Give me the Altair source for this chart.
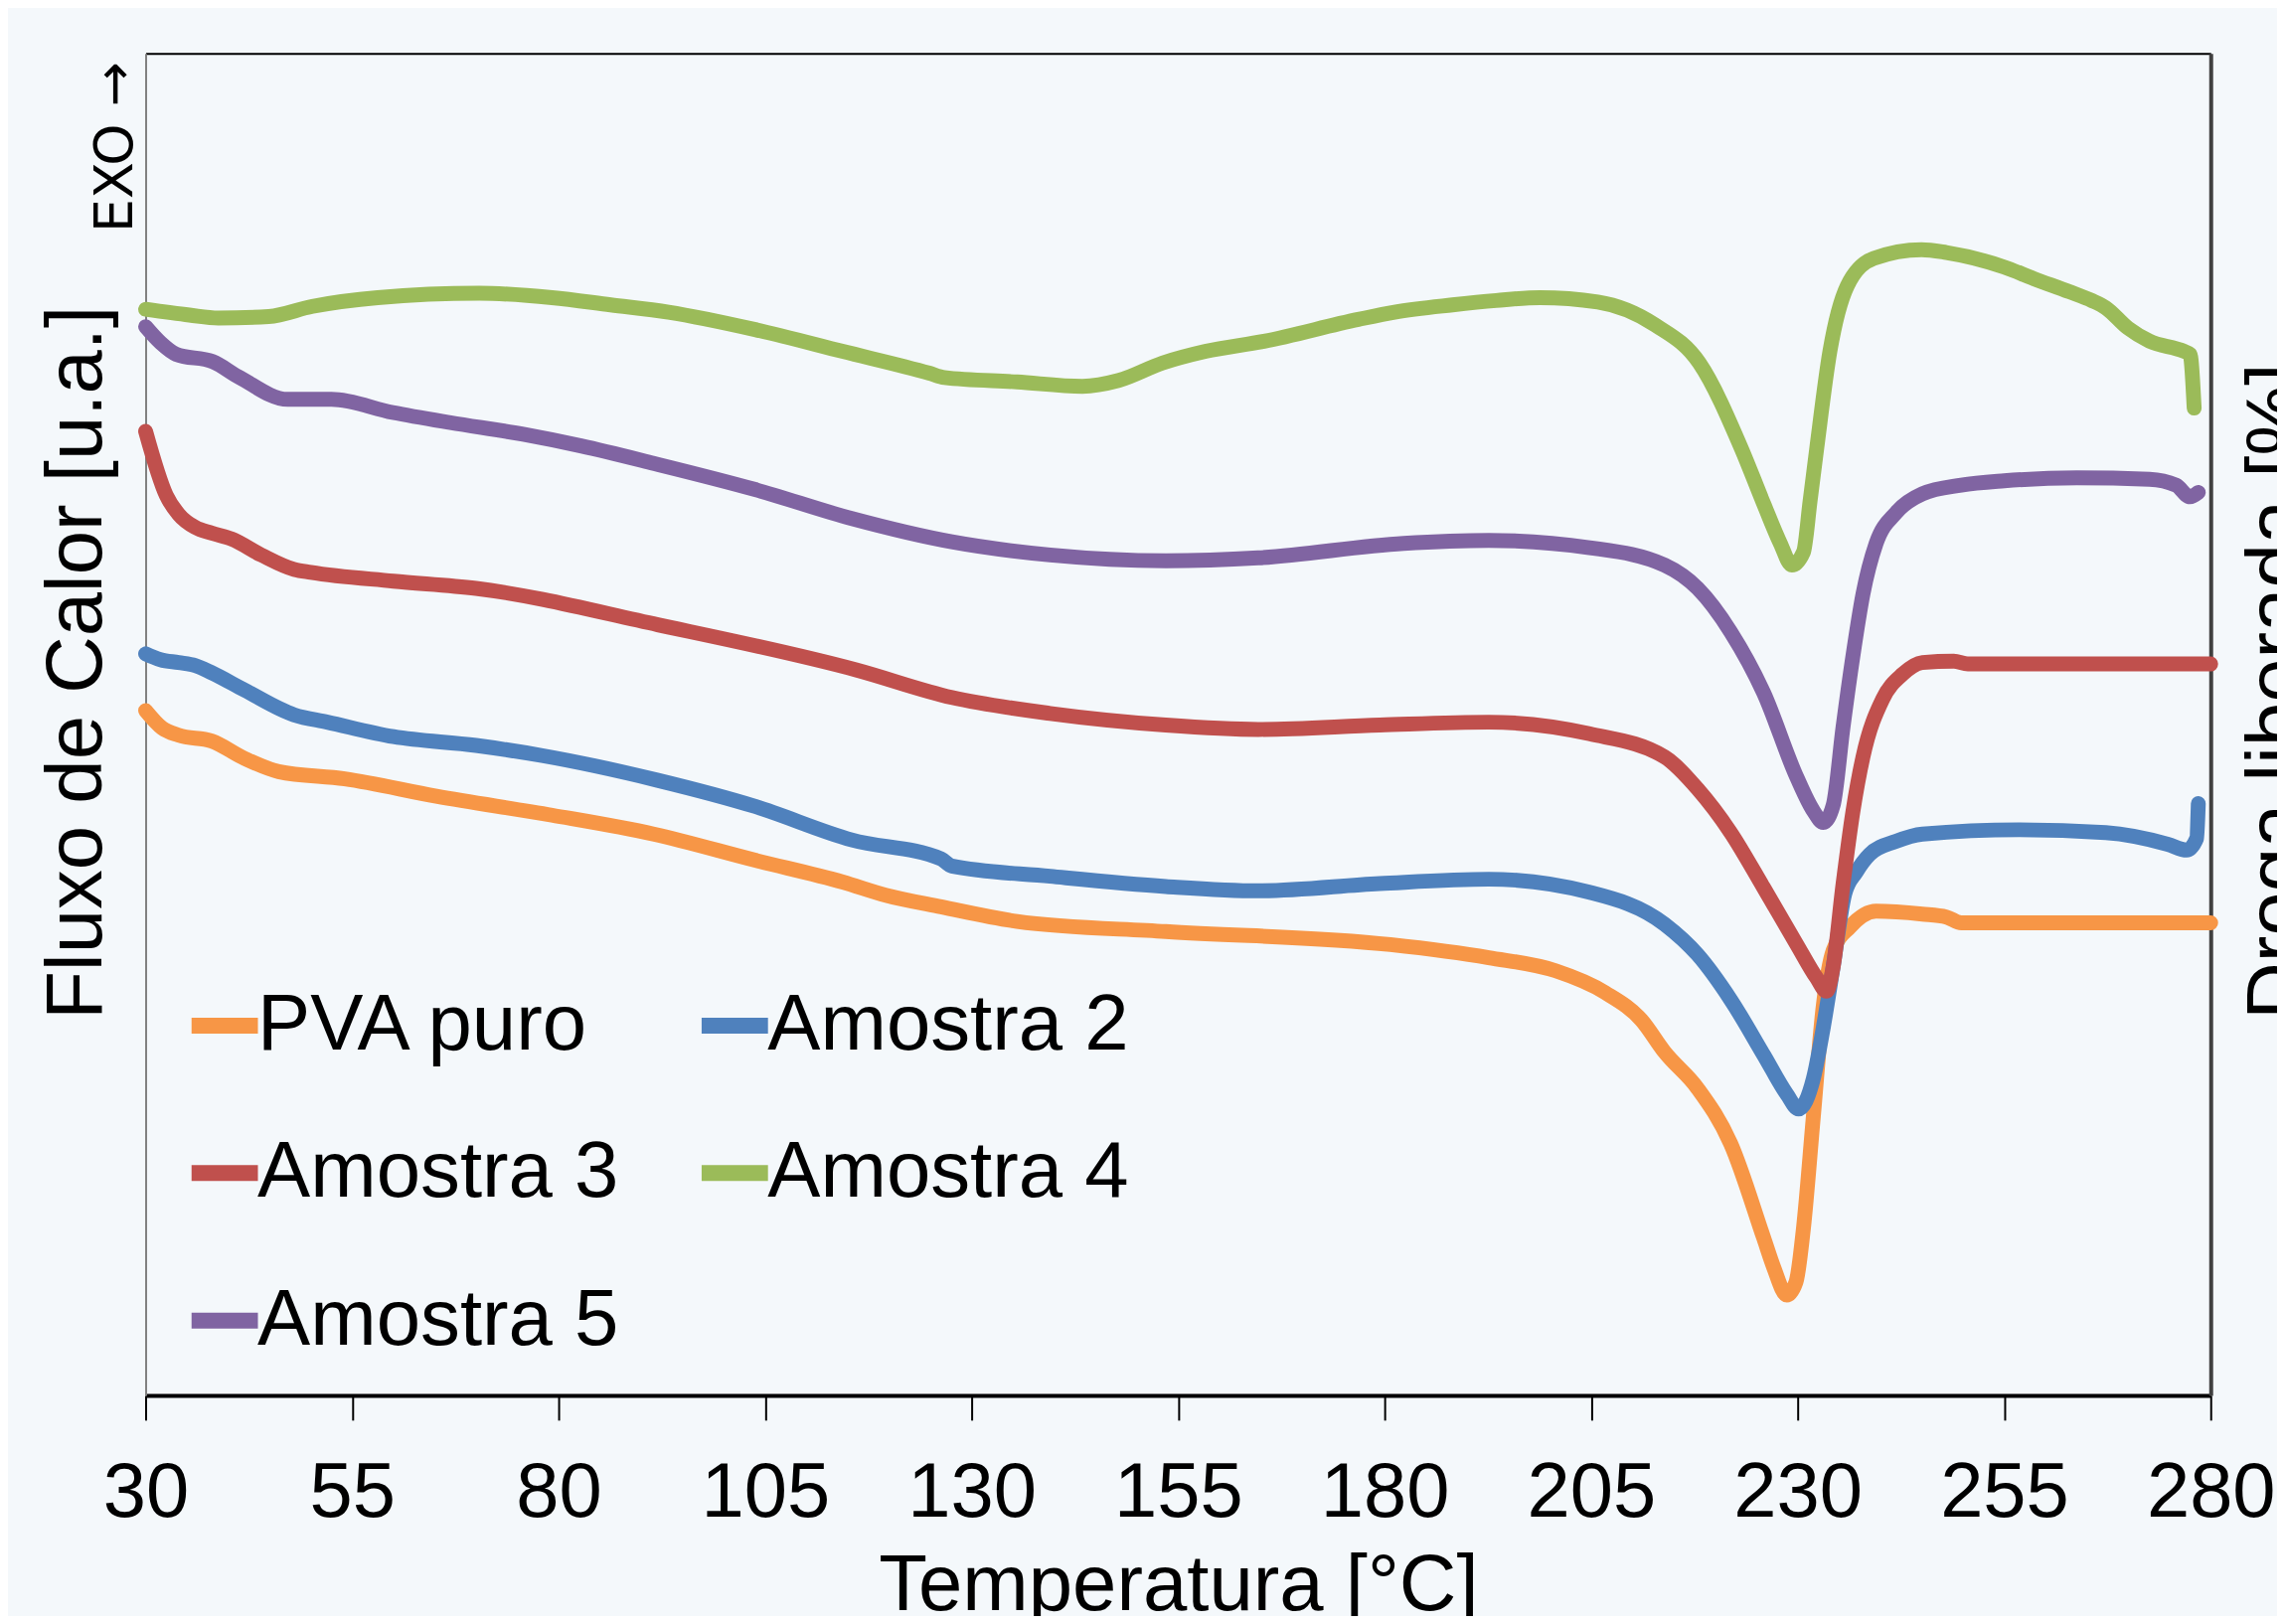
import altair as alt
import pandas as pd

# ---------------- data ----------------
series_names = ["PVA puro", "Amostra 2", "Amostra 3", "Amostra 4", "Amostra 5"]
series_colors = ["#F79646", "#4F81BD", "#C0504D", "#9BBB59", "#8064A2"]
x_ticks = [30, 55, 80, 105, 130, 155, 180, 205, 230, 255, 280]

pva_temp = [30.0, 32.0, 34.0, 38.0, 42.0, 46.1, 54.1, 65.2, 79.2, 91.5, 103.8, 114.4,
            119.6, 126.3, 135.5, 153.5, 180.7, 192.6, 200.7, 206.7, 211.1, 213.9, 217.9,
            221.9, 225.9, 227.1, 228.7, 229.8, 230.7, 231.9, 233.1, 234.3, 236.3, 239.5,
            245.1, 248.0, 249.8, 258.6, 280.0]
pva_flow = [471, 459, 454, 450, 438, 429, 424, 412, 399, 386, 368, 353,
            344, 336, 326, 319, 310, 301, 292, 277, 258, 236, 211,
            173, 108, 88, 69, 78, 115, 192, 268, 306, 322, 333,
            331, 329, 325, 325, 325]

a2_temp = [30.0, 31.8, 34.0, 36.0, 38.0, 42.0, 48.0, 52.0, 60.0, 70.0, 78.0, 92.0,
           103.8, 115.5, 126.3, 127.6, 139.5, 153.5, 164.7, 179.4, 192.6, 204.8, 213.9,
           217.9, 221.9, 225.9, 228.7, 230.1, 231.9, 233.1, 234.3, 235.7, 237.1, 238.7,
           241.9, 245.1, 256.8, 267.3, 274.8, 277.1, 278.3, 278.5]
a2_flow = [510, 506, 504, 502, 497, 485, 468, 463, 453, 447, 440, 423,
           405, 382, 369, 364, 357, 350, 347, 352, 355, 346, 324,
           303, 272, 234, 207, 197, 218, 253, 295, 345, 360, 372,
           381, 386, 389, 387, 379, 375, 383, 407]

a3_temp = [30.0, 32.5, 34.0, 36.0, 38.0, 40.4, 44.0, 48.0, 50.0, 60.0, 70.0, 92.0,
           116.0, 127.6, 139.5, 153.5, 164.7, 179.4, 192.6, 204.8, 213.9, 217.9, 221.9,
           225.9, 229.9, 232.3, 233.5, 234.3, 235.5, 236.7, 237.9, 240.3, 242.7, 245.1,
           248.9, 250.6, 280.0]
a3_flow = [663, 619, 606, 597, 593, 589, 578, 568, 566, 560, 555, 530,
           499, 480, 469, 461, 458, 461, 463, 455, 439, 417, 387,
           349, 310, 287, 278, 295, 352, 402, 439, 479, 496, 504,
           505, 503, 503]

a4_temp = [30.0, 35.3, 38.8, 44.9, 50.2, 58.1, 70.4, 79.2, 86.3, 93.3, 103.8, 114.4,
           124.9, 126.7, 135.5, 143.4, 147.8, 153.1, 158.3, 165.4, 176.8, 181.2, 188.2,
           193.5, 198.8, 205.8, 212.8, 218.1, 223.2, 225.9, 227.9, 229.3, 230.7, 231.5,
           232.3, 233.9, 236.0, 239.2, 245.0, 248.0, 255.0, 258.6, 262.9, 265.6, 267.3,
           270.0, 272.6, 276.8, 277.5, 278.0]
a4_flow = [747, 743, 741, 742, 749, 755, 758, 755, 750, 745, 733, 718,
           703, 700, 697, 694, 698, 710, 718, 725, 740, 745, 750,
           753, 755, 752, 736, 710, 651, 613, 586, 571, 580, 615,
           651, 718, 763, 782, 788, 786, 776, 768, 759, 753, 748,
           734, 725, 718, 716, 679]

a5_temp = [30.0, 31.8, 33.7, 38.1, 41.4, 47.2, 52.5, 59.9, 66.9, 75.7, 82.7, 91.5,
           103.8, 115.5, 127.6, 139.5, 153.5, 164.7, 182.3, 192.6, 204.8, 213.9, 217.9,
           221.9, 225.9, 229.9, 231.9, 233.1, 234.3, 235.5, 236.7, 237.9, 239.5, 241.9,
           245.1, 249.8, 255.0, 263.8, 272.6, 275.8, 277.5, 278.5]
a5_flow = [735, 724, 716, 711, 700, 685, 685, 676, 669, 661, 653, 641,
           623, 603, 587, 578, 574, 576, 586, 588, 583, 571, 555,
           525, 483, 425, 402, 394, 406, 460, 509, 551, 586, 607,
           620, 626, 629, 631, 630, 626, 618, 621]

all_temps = [pva_temp, a2_temp, a3_temp, a4_temp, a5_temp]
all_flows = [pva_flow, a2_flow, a3_flow, a4_flow, a5_flow]

rows = []
for name, temps, flows in zip(series_names, all_temps, all_flows):
    for i, (t, f) in enumerate(zip(temps, flows)):
        rows.append({"serie": name, "temp": t, "fluxo": f, "i": i})
df = pd.DataFrame(rows)

FONT = "Liberation Sans"

color = alt.Color(
    "serie:N",
    scale=alt.Scale(domain=series_names, range=series_colors),
    legend=alt.Legend(
        title=None, orient="none", legendX=21, legendY=940, columns=2,
        direction="horizontal",
        symbolType="M-0.75,0L1.25,0", symbolSize=4489, symbolStrokeWidth=16,
        symbolOffset=9,
        labelFontSize=80, labelFont=FONT, labelColor="black", labelOffset=0,
        labelLimit=1000, rowPadding=67, columnPadding=51, padding=0,
    ),
)

x_scale = alt.Scale(domain=[30, 280], nice=False, zero=False)

x_enc = alt.X(
    "temp:Q",
    scale=x_scale,
    axis=alt.Axis(
        values=x_ticks, format="d", title="Temperatura [°C]", grid=False,
        domainColor="black", domainWidth=4, tickColor="black", tickWidth=2,
        tickSize=25, labelFontSize=78, labelPadding=35, labelColor="black",
        labelFont=FONT, labelFlush=False, labelOverlap=False,
        titleFont=FONT, titleFontSize=80, titleFontWeight="normal",
        titleColor="black", titleY=216, titleBaseline="alphabetic",
    ),
)

x_top = alt.X(
    "temp:Q",
    scale=x_scale,
    axis=alt.Axis(
        orient="top", title=None, labels=False, ticks=False, grid=False,
        domainColor="black", domainWidth=2,
    ),
)

y_scale = alt.Scale(domain=[0, 923], nice=False, zero=False)

y_left = alt.Y(
    "fluxo:Q", scale=y_scale,
    axis=alt.Axis(
        title="Fluxo de Calor [u.a.]", labels=False, ticks=False, grid=False,
        domainColor="#808080", domainWidth=2, titleFont=FONT, titleFontSize=80,
        titleFontWeight="normal", titleColor="black", titleAngle=270,
        titleAlign="left", titleBaseline="alphabetic", titleX=-45, titleY=975,
    ),
)

line_layers = []
for name in series_names:
    line_layers.append(
        alt.Chart(df)
        .transform_filter(alt.datum.serie == name)
        .mark_line(strokeWidth=15, strokeCap="round", strokeJoin="round",
                   interpolate="monotone")
        .encode(x=x_enc, y=y_left, color=color, order="i:Q")
    )
lines = alt.layer(*line_layers)

right = (
    alt.Chart(df)
    .mark_line(opacity=0)
    .encode(
        x=x_top,
        y=alt.Y(
            "fluxo:Q", scale=y_scale,
            axis=alt.Axis(
                orient="right", title="Droga liberada [%]", labels=False,
                ticks=False, grid=False, domainColor="#404040", domainWidth=4,
                titleFont=FONT, titleFontSize=80, titleFontWeight="normal",
                titleColor="black", titleAngle=270, titleAlign="left",
                titleBaseline="alphabetic", titleX=92, titleY=975,
            ),
        ),
        detail="serie:N",
    )
)

exo_df = pd.DataFrame({"rotulo": ["EXO →"]})
exo = (
    alt.Chart(exo_df)
    .mark_text(angle=270, align="left", baseline="alphabetic", fontSize=54,
               font="DejaVu Sans", color="black")
    .encode(text="rotulo:N", x=alt.value(-14), y=alt.value(181))
)

chart = (
    alt.layer(lines, right, exo)
    .resolve_scale(y="independent")
    .resolve_axis(x="independent")
    .properties(
        width=2085, height=1355,
        padding={"left": 139, "top": 43, "right": 67, "bottom": 220},
        autosize=alt.AutoSizeParams(type="none"),
        background="#F4F8FB",
    )
    .configure_view(stroke="black", strokeWidth=2.5)
    .configure(font=FONT)
)

chart.save("out.html", embed_options={"renderer": "svg", "actions": False})
